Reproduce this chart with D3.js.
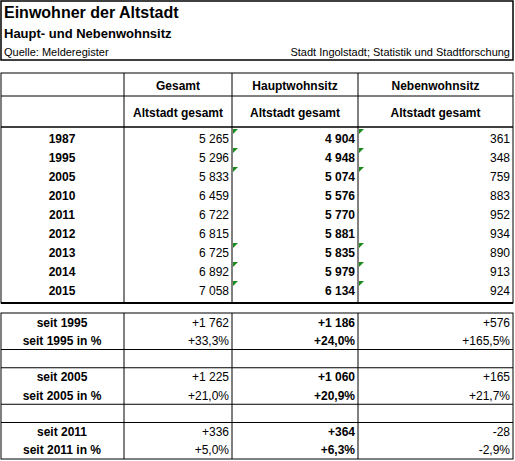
<!DOCTYPE html><html><head><meta charset="utf-8">
<script src="https://cdn.jsdelivr.net/npm/d3@7"></script>
<style>body{margin:0;background:#fff}svg{font-family:"Liberation Sans",Arial,sans-serif}</style></head><body>
<svg id="c" width="515" height="461"></svg>
<script>
const title="Einwohner der Altstadt", subtitle="Haupt- und Nebenwohnsitz";
const source="Quelle: Melderegister", publisher="Stadt Ingolstadt; Statistik und Stadtforschung";
const columns=["Gesamt","Hauptwohnsitz","Nebenwohnsitz"];
const subHeader="Altstadt gesamt";
const years=["1987","1995","2005","2010","2011","2012","2013","2014","2015"];
const gesamt=[5265,5296,5833,6459,6722,6815,6725,6892,7058];
const haupt=[4904,4948,5074,5576,5770,5881,5835,5979,6134];
const neben=[361,348,759,883,952,934,890,913,924];
const flagged=[true,true,true,false,false,false,true,true,true];
const changeLabels=["seit 1995","seit 1995 in %","","seit 2005","seit 2005 in %","","seit 2011","seit 2011 in %"];
const chGesamt=["+1 762","+33,3%","","+1 225","+21,0%","","+336","+5,0%"];
const chHaupt=["+1 186","+24,0%","","+1 060","+20,9%","","+364","+6,3%"];
const chNeben=["+576","+165,5%","","+165","+21,7%","","-28","-2,9%"];

const svg=d3.select("#c");
const colX=[1,124,232,358,513];
const line=(x1,y1,x2,y2,w=1)=>svg.append("line").attr("x1",x1).attr("y1",y1).attr("x2",x2).attr("y2",y2).attr("stroke","#000").attr("stroke-width",w);
const text=(x,y,t,o={})=>svg.append("text").attr("x",x).attr("y",y).text(t).attr("font-size",o.s||12).attr("font-weight",o.b?"bold":"normal").attr("text-anchor",o.a||"start").attr("fill","#000");

// title box
svg.append("rect").attr("x",1).attr("y",1).attr("width",512).attr("height",59).attr("fill","none").attr("stroke","#000").attr("stroke-width",1.5);
text(4,18,title,{s:16,b:true});
text(4,38,subtitle,{s:13,b:true});
text(4,56,source,{s:11});
text(510,56,publisher,{s:11,a:"end"});

// table 1
const yRow=d3.scaleBand().domain(years).range([129,300]);
const hdrTop=73, hdrMid=96, hdrBot=127, t1Bot=303;
svg.append("rect").attr("x",1).attr("y",hdrTop).attr("width",512).attr("height",t1Bot-hdrTop).attr("fill","none").attr("stroke","#000");
line(1,hdrMid,513,hdrMid);
line(1,hdrBot,513,hdrBot,1.5);
line(1,t1Bot,513,t1Bot,2);
colX.slice(1,4).forEach(x=>line(x,hdrTop,x,t1Bot));
columns.forEach((c,i)=>{const cx=(colX[i+1]+colX[i+2])/2;
  text(cx,90,c,{b:true,a:"middle"}); text(cx,117,subHeader,{b:true,a:"middle"});});
years.forEach((y,i)=>{const by=yRow(y)+yRow.bandwidth()*0.75;
  text(62,by,y,{b:true,a:"middle"});
  text(229,by,d3.format(",")(gesamt[i]).replace(/,/g," "));
  text(355,by,d3.format(",")(haupt[i]).replace(/,/g," "),{b:true});
  text(510,by,neben[i]);
  if(flagged[i]) [232,358].forEach(x=>svg.append("path").attr("d",`M${x+1},${yRow(y)}h5l-5,5z`).attr("fill","#1a8a1a"));
});
svg.selectAll("text").filter(function(){return +this.getAttribute("x")>200&&this.getAttribute("text-anchor")==="start"&&+this.getAttribute("y")>120&&+this.getAttribute("y")<300}).attr("text-anchor","end");

// table 2
const t2Top=313;
const yCh=d3.scaleBand().domain(d3.range(changeLabels.length)).range([t2Top,459]);
svg.append("rect").attr("x",1).attr("y",t2Top).attr("width",512).attr("height",459-t2Top).attr("fill","none").attr("stroke","#000");
colX.slice(1,4).forEach(x=>line(x,t2Top,x,459));
changeLabels.forEach((l,i)=>{
  if(l===""){line(1,yCh(i),513,yCh(i));line(1,yCh(i)+yCh.bandwidth(),513,yCh(i)+yCh.bandwidth());return;}
  const by=yCh(i)+yCh.bandwidth()*0.75;
  text(62,by,l,{b:true,a:"middle"});
  text(229,by,chGesamt[i],{a:"end"});
  text(355,by,chHaupt[i],{a:"end",b:true});
  text(510,by,chNeben[i],{a:"end"});
});
</script></body></html>
